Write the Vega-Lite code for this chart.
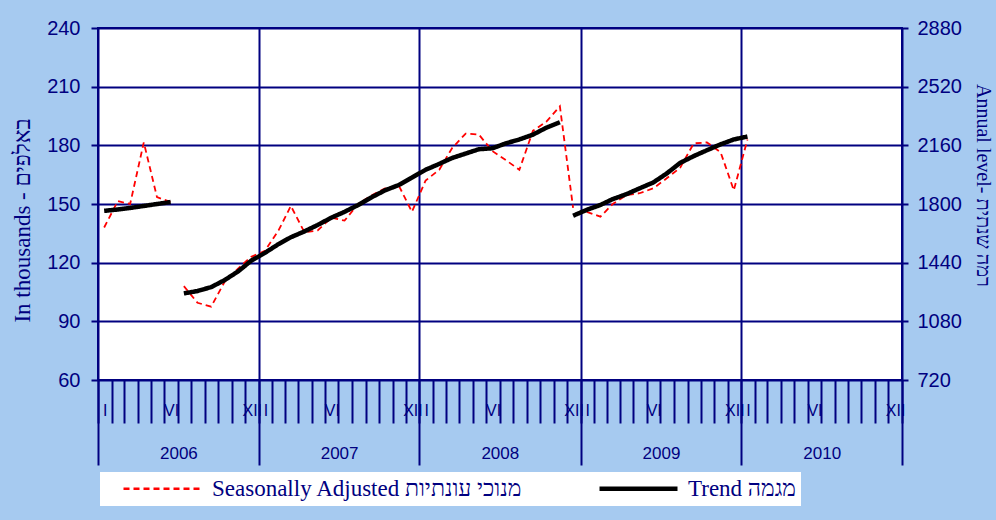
{
  "$schema": "https://vega.github.io/schema/vega-lite/v6.json",
  "width": 804,
  "height": 352,
  "autosize": {"type": "none"},
  "padding": {"left": 98, "top": 28, "right": 94, "bottom": 140},
  "background": "#A6CAF0",
  "config": {
    "view": {"fill": "white", "stroke": "#000080", "strokeWidth": 2},
    "axis": {
      "labelFont": "Liberation Sans",
      "labelColor": "#000080",
      "tickColor": "#000080",
      "tickWidth": 2,
      "gridColor": "#000080",
      "gridWidth": 2,
      "gridOpacity": 1,
      "domain": false,
      "titleFont": "Liberation Serif",
      "titleColor": "#000080",
      "titleFontWeight": "normal",
      "labelFlush": false,
      "labelOverlap": false,
      "labelBound": false
    }
  },
  "data": {
    "values": [
      {"date": "2006-01-15", "series": "Seasonally Adjusted מנוכי עונתיות", "seg": "A", "value": 138},
      {"date": "2006-02-15", "series": "Seasonally Adjusted מנוכי עונתיות", "seg": "A", "value": 151.5},
      {"date": "2006-03-15", "series": "Seasonally Adjusted מנוכי עונתיות", "seg": "A", "value": 150},
      {"date": "2006-04-15", "series": "Seasonally Adjusted מנוכי עונתיות", "seg": "A", "value": 181.5},
      {"date": "2006-05-15", "series": "Seasonally Adjusted מנוכי עונתיות", "seg": "A", "value": 153.5},
      {"date": "2006-06-15", "series": "Seasonally Adjusted מנוכי עונתיות", "seg": "A", "value": 151},
      {"date": "2006-07-15", "series": "Seasonally Adjusted מנוכי עונתיות", "seg": "B", "value": 108},
      {"date": "2006-08-15", "series": "Seasonally Adjusted מנוכי עונתיות", "seg": "B", "value": 99.5},
      {"date": "2006-09-15", "series": "Seasonally Adjusted מנוכי עונתיות", "seg": "B", "value": 97.5},
      {"date": "2006-10-15", "series": "Seasonally Adjusted מנוכי עונתיות", "seg": "B", "value": 110},
      {"date": "2006-11-15", "series": "Seasonally Adjusted מנוכי עונתיות", "seg": "B", "value": 117},
      {"date": "2006-12-15", "series": "Seasonally Adjusted מנוכי עונתיות", "seg": "B", "value": 123},
      {"date": "2007-01-15", "series": "Seasonally Adjusted מנוכי עונתיות", "seg": "B", "value": 126},
      {"date": "2007-02-15", "series": "Seasonally Adjusted מנוכי עונתיות", "seg": "B", "value": 136.5},
      {"date": "2007-03-15", "series": "Seasonally Adjusted מנוכי עונתיות", "seg": "B", "value": 149},
      {"date": "2007-04-15", "series": "Seasonally Adjusted מנוכי עונתיות", "seg": "B", "value": 135.5},
      {"date": "2007-05-15", "series": "Seasonally Adjusted מנוכי עונתיות", "seg": "B", "value": 136.5},
      {"date": "2007-06-15", "series": "Seasonally Adjusted מנוכי עונתיות", "seg": "B", "value": 143},
      {"date": "2007-07-15", "series": "Seasonally Adjusted מנוכי עונתיות", "seg": "B", "value": 141.5},
      {"date": "2007-08-15", "series": "Seasonally Adjusted מנוכי עונתיות", "seg": "B", "value": 150},
      {"date": "2007-09-15", "series": "Seasonally Adjusted מנוכי עונתיות", "seg": "B", "value": 154.5},
      {"date": "2007-10-15", "series": "Seasonally Adjusted מנוכי עונתיות", "seg": "B", "value": 158},
      {"date": "2007-11-15", "series": "Seasonally Adjusted מנוכי עונתיות", "seg": "B", "value": 159.5},
      {"date": "2007-12-15", "series": "Seasonally Adjusted מנוכי עונתיות", "seg": "B", "value": 146},
      {"date": "2008-01-15", "series": "Seasonally Adjusted מנוכי עונתיות", "seg": "B", "value": 162},
      {"date": "2008-02-15", "series": "Seasonally Adjusted מנוכי עונתיות", "seg": "B", "value": 167.5},
      {"date": "2008-03-15", "series": "Seasonally Adjusted מנוכי עונתיות", "seg": "B", "value": 178.5},
      {"date": "2008-04-15", "series": "Seasonally Adjusted מנוכי עונתיות", "seg": "B", "value": 186},
      {"date": "2008-05-15", "series": "Seasonally Adjusted מנוכי עונתיות", "seg": "B", "value": 185.5},
      {"date": "2008-06-15", "series": "Seasonally Adjusted מנוכי עונתיות", "seg": "B", "value": 177},
      {"date": "2008-07-15", "series": "Seasonally Adjusted מנוכי עונתיות", "seg": "B", "value": 172.5},
      {"date": "2008-08-15", "series": "Seasonally Adjusted מנוכי עונתיות", "seg": "B", "value": 167.5},
      {"date": "2008-09-15", "series": "Seasonally Adjusted מנוכי עונתיות", "seg": "B", "value": 187.5},
      {"date": "2008-10-15", "series": "Seasonally Adjusted מנוכי עונתיות", "seg": "B", "value": 192},
      {"date": "2008-11-15", "series": "Seasonally Adjusted מנוכי עונתיות", "seg": "B", "value": 200},
      {"date": "2008-12-15", "series": "Seasonally Adjusted מנוכי עונתיות", "seg": "B", "value": 148},
      {"date": "2009-01-15", "series": "Seasonally Adjusted מנוכי עונתיות", "seg": "C", "value": 146},
      {"date": "2009-02-15", "series": "Seasonally Adjusted מנוכי עונתיות", "seg": "C", "value": 143.5},
      {"date": "2009-03-15", "series": "Seasonally Adjusted מנוכי עונתיות", "seg": "C", "value": 150},
      {"date": "2009-04-15", "series": "Seasonally Adjusted מנוכי עונתיות", "seg": "C", "value": 154.5},
      {"date": "2009-05-15", "series": "Seasonally Adjusted מנוכי עונתיות", "seg": "C", "value": 155.5},
      {"date": "2009-06-15", "series": "Seasonally Adjusted מנוכי עונתיות", "seg": "C", "value": 158},
      {"date": "2009-07-15", "series": "Seasonally Adjusted מנוכי עונתיות", "seg": "C", "value": 163},
      {"date": "2009-08-15", "series": "Seasonally Adjusted מנוכי עונתיות", "seg": "C", "value": 168.5},
      {"date": "2009-09-15", "series": "Seasonally Adjusted מנוכי עונתיות", "seg": "C", "value": 181},
      {"date": "2009-10-15", "series": "Seasonally Adjusted מנוכי עונתיות", "seg": "C", "value": 181.5},
      {"date": "2009-11-15", "series": "Seasonally Adjusted מנוכי עונתיות", "seg": "C", "value": 176.5},
      {"date": "2009-12-15", "series": "Seasonally Adjusted מנוכי עונתיות", "seg": "C", "value": 157},
      {"date": "2010-01-15", "series": "Seasonally Adjusted מנוכי עונתיות", "seg": "C", "value": 183},
      {"date": "2006-01-15", "series": "Trend מגמה", "seg": "A", "value": 146.5},
      {"date": "2006-02-15", "series": "Trend מגמה", "seg": "A", "value": 147.2},
      {"date": "2006-03-15", "series": "Trend מגמה", "seg": "A", "value": 148},
      {"date": "2006-04-15", "series": "Trend מגמה", "seg": "A", "value": 149},
      {"date": "2006-05-15", "series": "Trend מגמה", "seg": "A", "value": 150},
      {"date": "2006-06-15", "series": "Trend מגמה", "seg": "A", "value": 151},
      {"date": "2006-07-15", "series": "Trend מגמה", "seg": "B", "value": 104.3},
      {"date": "2006-08-15", "series": "Trend מגמה", "seg": "B", "value": 105.5},
      {"date": "2006-09-15", "series": "Trend מגמה", "seg": "B", "value": 107.5},
      {"date": "2006-10-15", "series": "Trend מגמה", "seg": "B", "value": 111},
      {"date": "2006-11-15", "series": "Trend מגמה", "seg": "B", "value": 115.5},
      {"date": "2006-12-15", "series": "Trend מגמה", "seg": "B", "value": 121},
      {"date": "2007-01-15", "series": "Trend מגמה", "seg": "B", "value": 125},
      {"date": "2007-02-15", "series": "Trend מגמה", "seg": "B", "value": 129.5},
      {"date": "2007-03-15", "series": "Trend מגמה", "seg": "B", "value": 133},
      {"date": "2007-04-15", "series": "Trend מגמה", "seg": "B", "value": 136},
      {"date": "2007-05-15", "series": "Trend מגמה", "seg": "B", "value": 139.3},
      {"date": "2007-06-15", "series": "Trend מגמה", "seg": "B", "value": 143},
      {"date": "2007-07-15", "series": "Trend מגמה", "seg": "B", "value": 146},
      {"date": "2007-08-15", "series": "Trend מגמה", "seg": "B", "value": 149.5},
      {"date": "2007-09-15", "series": "Trend מגמה", "seg": "B", "value": 153.5},
      {"date": "2007-10-15", "series": "Trend מגמה", "seg": "B", "value": 157},
      {"date": "2007-11-15", "series": "Trend מגמה", "seg": "B", "value": 159.7},
      {"date": "2007-12-15", "series": "Trend מגמה", "seg": "B", "value": 163.5},
      {"date": "2008-01-15", "series": "Trend מגמה", "seg": "B", "value": 167.5},
      {"date": "2008-02-15", "series": "Trend מגמה", "seg": "B", "value": 170.5},
      {"date": "2008-03-15", "series": "Trend מגמה", "seg": "B", "value": 173.5},
      {"date": "2008-04-15", "series": "Trend מגמה", "seg": "B", "value": 175.8},
      {"date": "2008-05-15", "series": "Trend מגמה", "seg": "B", "value": 178},
      {"date": "2008-06-15", "series": "Trend מגמה", "seg": "B", "value": 178.5},
      {"date": "2008-07-15", "series": "Trend מגמה", "seg": "B", "value": 181},
      {"date": "2008-08-15", "series": "Trend מגמה", "seg": "B", "value": 183},
      {"date": "2008-09-15", "series": "Trend מגמה", "seg": "B", "value": 185.5},
      {"date": "2008-10-15", "series": "Trend מגמה", "seg": "B", "value": 189},
      {"date": "2008-11-15", "series": "Trend מגמה", "seg": "B", "value": 191.8},
      {"date": "2008-12-15", "series": "Trend מגמה", "seg": "C", "value": 144},
      {"date": "2009-01-15", "series": "Trend מגמה", "seg": "C", "value": 147},
      {"date": "2009-02-15", "series": "Trend מגמה", "seg": "C", "value": 149.5},
      {"date": "2009-03-15", "series": "Trend מגמה", "seg": "C", "value": 152.5},
      {"date": "2009-04-15", "series": "Trend מגמה", "seg": "C", "value": 155},
      {"date": "2009-05-15", "series": "Trend מגמה", "seg": "C", "value": 158},
      {"date": "2009-06-15", "series": "Trend מגמה", "seg": "C", "value": 161},
      {"date": "2009-07-15", "series": "Trend מגמה", "seg": "C", "value": 165.5},
      {"date": "2009-08-15", "series": "Trend מגמה", "seg": "C", "value": 171},
      {"date": "2009-09-15", "series": "Trend מגמה", "seg": "C", "value": 174.5},
      {"date": "2009-10-15", "series": "Trend מגמה", "seg": "C", "value": 177.5},
      {"date": "2009-11-15", "series": "Trend מגמה", "seg": "C", "value": 180.5},
      {"date": "2009-12-15", "series": "Trend מגמה", "seg": "C", "value": 183},
      {"date": "2010-01-15", "series": "Trend מגמה", "seg": "C", "value": 184.5}
    ]
  },
  "layer": [
    {
      "transform": [{"filter": {"field": "series", "equal": "Seasonally Adjusted מנוכי עונתיות"}}],
      "mark": {"type": "line", "strokeCap": "butt", "strokeWidth": 1.8},
      "encoding": {
        "x": {
          "field": "date",
          "type": "temporal",
          "scale": {"domain": [{"year": 2006, "month": 1, "date": 1}, {"year": 2011, "month": 1, "date": 1}], "nice": false},
          "axis": {
            "orient": "bottom",
            "values": [
              {"year": 2006, "month": 1, "date": 1},
              {"year": 2007, "month": 1, "date": 1},
              {"year": 2008, "month": 1, "date": 1},
              {"year": 2009, "month": 1, "date": 1},
              {"year": 2010, "month": 1, "date": 1},
              {"year": 2011, "month": 1, "date": 1}
            ],
            "tickSize": 85,
            "grid": true,
            "labelExpr": "year(datum.value) < 2011 ? timeFormat(datum.value, '%Y') : ''",
            "labelOffset": 80.4,
            "labelPadding": -12,
            "labelBaseline": "middle",
            "labelAlign": "center",
            "labelFontSize": 17,
            "title": null
          }
        },
        "y": {
          "field": "value",
          "type": "quantitative",
          "scale": {"domain": [60, 240], "nice": false, "zero": false},
          "axis": null
        },
        "color": {
          "field": "series",
          "type": "nominal",
          "scale": {"domain": ["Seasonally Adjusted מנוכי עונתיות", "Trend מגמה"], "range": ["#FF0000", "#000000"]},
          "legend": {
            "title": null, "orient": "none", "legendX": 2, "legendY": 444, "direction": "horizontal",
            "fillColor": "white", "padding": 5, "symbolType": "M-3,0H3", "symbolSize": 676, "symbolOffset": 46,
            "labelOffset": 38, "columnPadding": 58, "labelFont": "Liberation Serif", "labelFontSize": 23,
            "labelColor": "#000080", "labelLimit": 600,
            "encode": {"symbols": {"update": {"strokeWidth": {"signal": "datum.value == 'Trend מגמה' ? 4.5 : 2.5"}}}}
          }
        },
        "strokeDash": {
          "field": "series",
          "type": "nominal",
          "scale": {"domain": ["Seasonally Adjusted מנוכי עונתיות", "Trend מגמה"], "range": [[6, 4], [1, 0]]},
          "legend": {
            "title": null, "orient": "none", "legendX": 2, "legendY": 444, "direction": "horizontal",
            "fillColor": "white", "padding": 5, "symbolType": "M-3,0H3", "symbolSize": 676, "symbolOffset": 46,
            "labelOffset": 38, "columnPadding": 58, "labelFont": "Liberation Serif", "labelFontSize": 23,
            "labelColor": "#000080", "labelLimit": 600,
            "encode": {"symbols": {"update": {"strokeWidth": {"signal": "datum.value == 'Trend מגמה' ? 4.5 : 2.5"}}}}
          }
        },
        "detail": {"field": "seg", "type": "nominal"}
      }
    },
    {
      "transform": [{"filter": {"field": "series", "equal": "Trend מגמה"}}],
      "mark": {"type": "line", "strokeCap": "butt", "strokeWidth": 4.5},
      "encoding": {
        "x": {
          "field": "date",
          "type": "temporal",
          "scale": {"domain": [{"year": 2006, "month": 1, "date": 1}, {"year": 2011, "month": 1, "date": 1}], "nice": false},
          "axis": {
            "orient": "bottom",
            "tickCount": {"interval": "month", "step": 1},
            "tickSize": 43,
            "grid": false,
            "labelExpr": "year(datum.value) < 2011 ? (month(datum.value) == 0 ? 'I' : month(datum.value) == 5 ? 'VI' : month(datum.value) == 11 ? 'XII' : '') : ''",
            "labelOffset": 6.7,
            "labelPadding": -13,
            "labelBaseline": "middle",
            "labelAlign": "center",
            "labelFontSize": 16,
            "title": null
          }
        },
        "y": {
          "field": "value",
          "type": "quantitative",
          "scale": {"domain": [60, 240], "nice": false, "zero": false},
          "axis": {
            "orient": "left",
            "values": [60, 90, 120, 150, 180, 210, 240],
            "grid": true,
            "tickSize": 7,
            "labelPadding": 11,
            "labelFontSize": 20,
            "title": "In thousands - באלפים",
            "titleFontSize": 23,
            "titleX": -76,
            "titleY": 192,
            "titleAngle": 270,
            "titleAlign": "center",
            "titleBaseline": "middle"
          }
        },
        "color": {"field": "series", "type": "nominal"},
        "strokeDash": {"field": "series", "type": "nominal"},
        "detail": {"field": "seg", "type": "nominal"}
      }
    },
    {
      "mark": {"type": "rule", "opacity": 0, "clip": true},
      "encoding": {
        "y": {
          "field": "value",
          "type": "quantitative",
          "scale": {"domain": [720, 2880], "nice": false, "zero": false},
          "axis": {
            "orient": "right",
            "values": [720, 1080, 1440, 1800, 2160, 2520, 2880],
            "format": "d",
            "grid": false,
            "tickSize": 6,
            "labelPadding": 9,
            "labelFontSize": 20,
            "title": "Annual level- רמה שנתית",
            "titleFontSize": 20,
            "titleX": 80,
            "titleY": 157,
            "titleAngle": 90,
            "titleAlign": "center",
            "titleBaseline": "middle"
          }
        }
      }
    }
  ],
  "resolve": {"scale": {"y": "independent"}, "axis": {"x": "independent"}}
}
